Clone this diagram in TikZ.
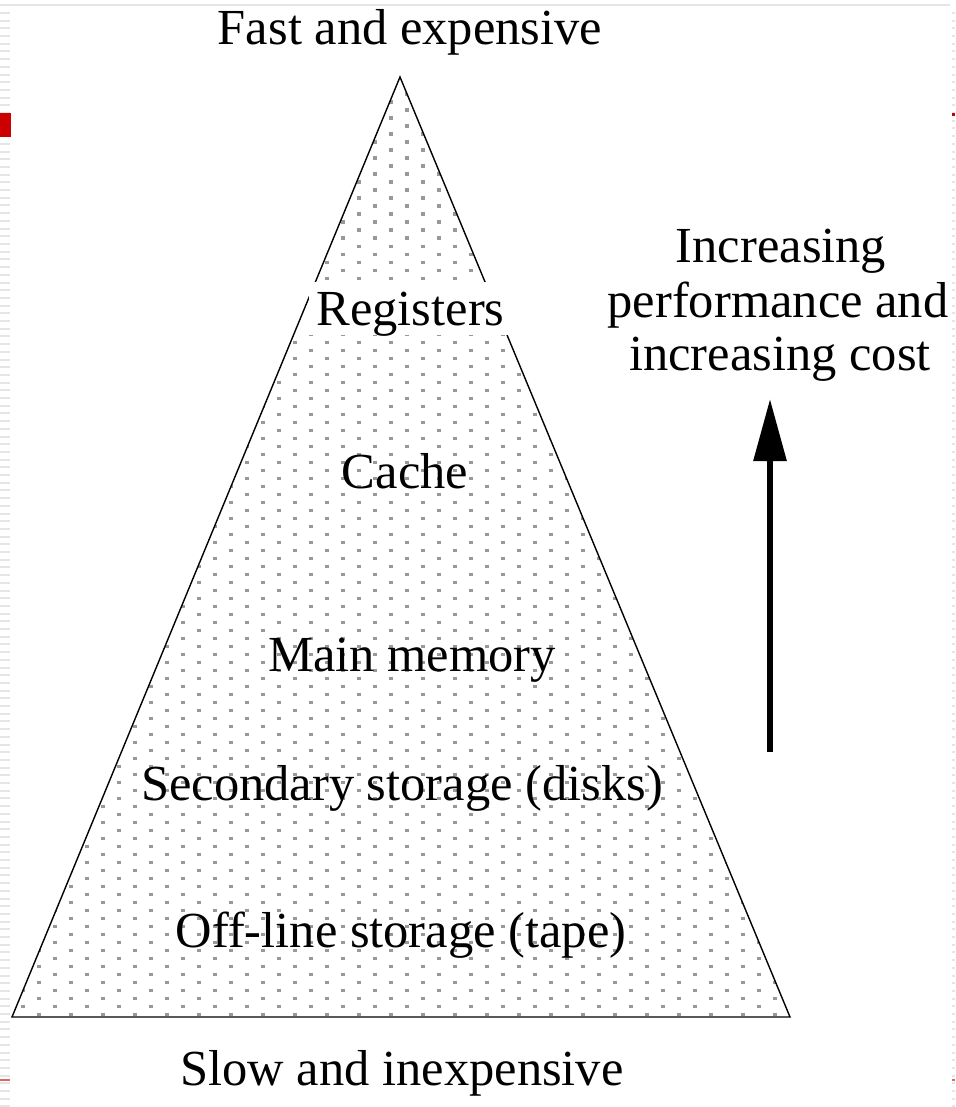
\documentclass[tikz,border=0pt]{standalone}
\usepackage{fontspec}
\setmainfont{Liberation Serif}
\usetikzlibrary{arrows.meta}
\definecolor{dotc}{HTML}{999999}
\definecolor{slidered}{HTML}{CC0000}
\tikzset{
  lbl/.style={anchor=base, inner sep=0pt, font=\fontsize{50.5}{56}\selectfont},
  pyr/.style={draw=black, line width=1.4pt, line join=miter},
  bigarrow/.style={line width=6pt, -{Triangle[length=62pt, width=32pt]}},
}
\begin{document}
\begin{tikzpicture}[x=1pt, y=-1pt]
\useasboundingbox (0,0) rectangle (955,1107);
% slide frame artifacts
\draw[gray!20, line width=2pt] (0,5) -- (950,5);
\draw[gray!20, line width=10pt, dash pattern=on 2pt off 5.7pt] (5,12) -- (5,1107);
\draw[gray!20, line width=3pt, dash pattern=on 2pt off 5.7pt] (953.5,12) -- (953.5,1107);
\fill[slidered] (0,113) rectangle (11,137);
\fill[slidered] (952,113) rectangle (955,116);
\fill[slidered!60] (0,1079) rectangle (10,1081);
\fill[slidered!60] (952,1079) rectangle (955,1081);
% pyramid
\coordinate (apex) at (400,77);
\coordinate (bl) at (12,1017);
\coordinate (br) at (790,1017);
\begin{scope}
  \clip (apex) -- (bl) -- (br) -- cycle;
  \foreach \j in {0,...,117}{
    \pgfmathsetmacro{\yy}{86.3+8*\j}
    \pgfmathsetmacro{\xo}{6.7+16*mod(\j,2)}
    \foreach \k in {0,...,25}{
      \fill[dotc] ({\xo+32*\k-1.8},{\yy-1.8}) rectangle ++(3.6,3.6);
    }
  }
\end{scope}
\draw[pyr] (apex) -- (bl) -- (br) -- cycle;
% labels
\node[lbl] (top) at (410,45) {Fast and expensive};
\node[anchor=center, fill=white, minimum width=200pt, minimum height=53pt, inner sep=0pt] (regbox) at (409,308) {};
\node[lbl] (reg) at (410.5,325) {Registers};
\node[lbl] (cache) at (405,488) {Cache};
\node[lbl] (main) at (412,671) {Main memory};
\node[lbl] (sec) at (402,800) {Secondary storage (disks)};
\node[lbl] (off) at (401,947) {Off-line storage (tape)};
\node[lbl] (bot) at (402,1085) {Slow and inexpensive};
\node[lbl] (inc1) at (781,262) {Increasing};
\node[lbl] (inc2) at (778,317) {performance and};
\node[lbl] (inc3) at (780,370) {increasing cost};
% arrow
\coordinate (arrTail) at (770,752);
\coordinate (arrTip) at (770,399);
\draw[bigarrow] (arrTail) -- (arrTip);
\end{tikzpicture}
\end{document}
